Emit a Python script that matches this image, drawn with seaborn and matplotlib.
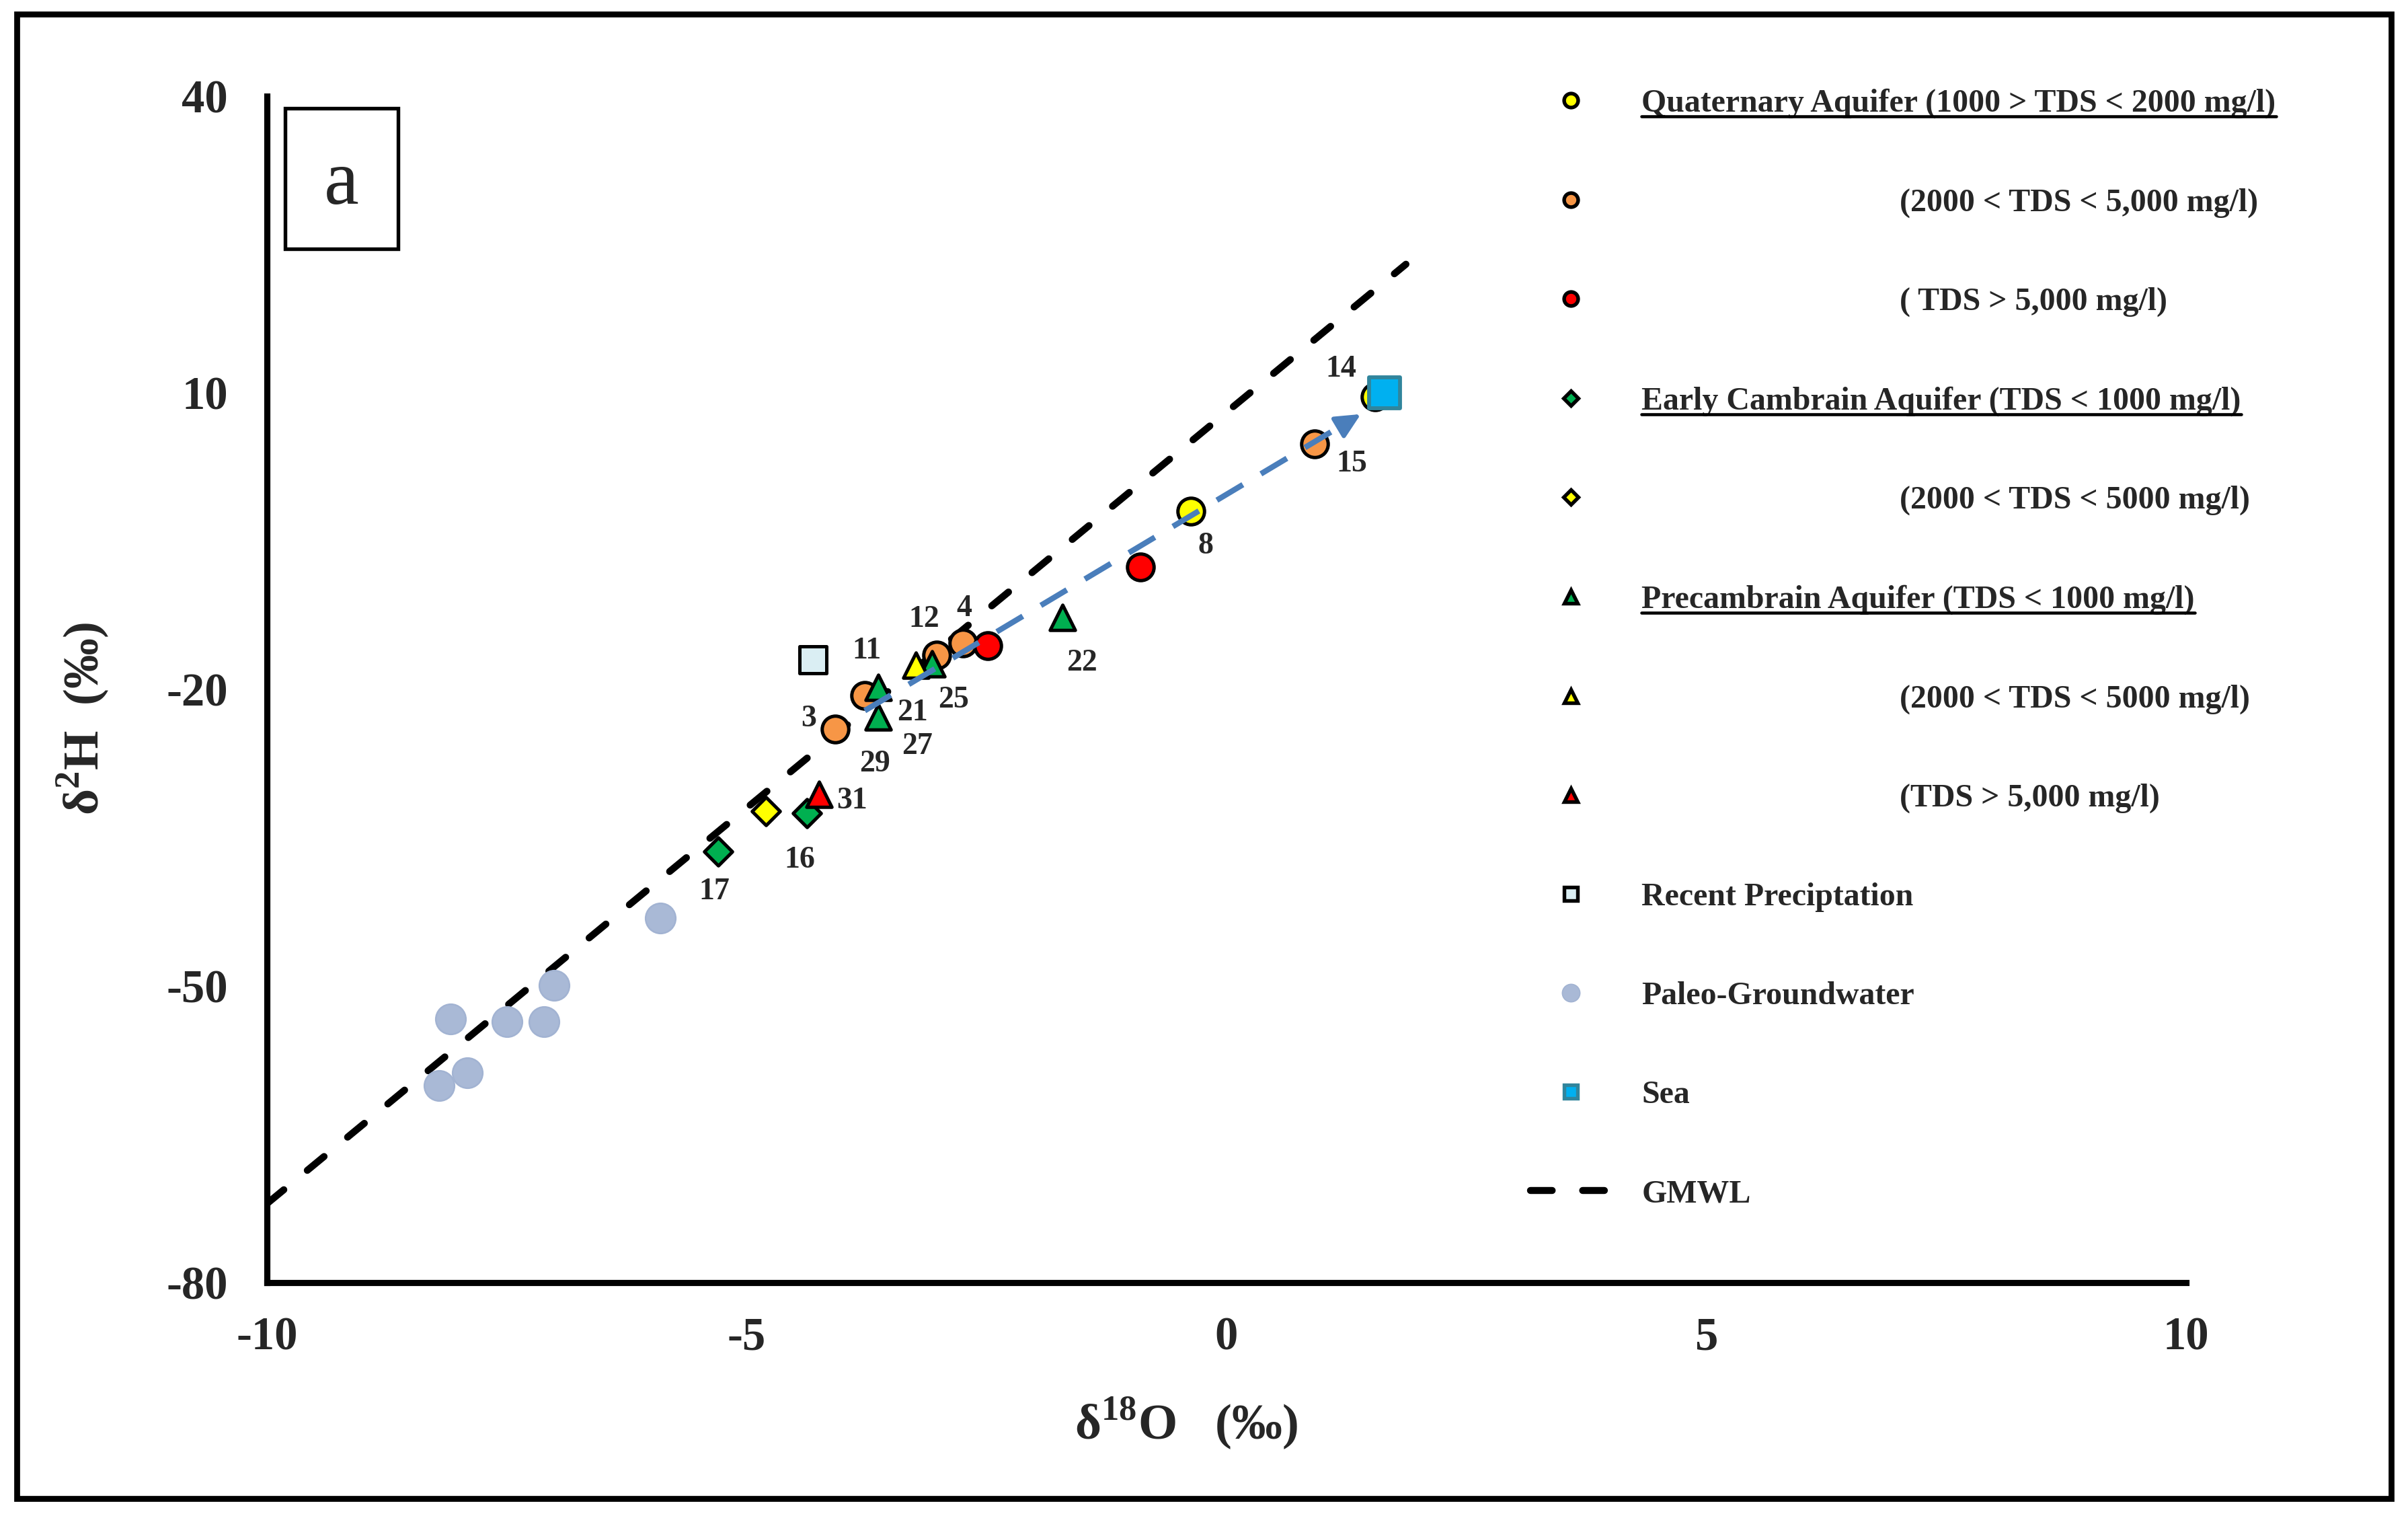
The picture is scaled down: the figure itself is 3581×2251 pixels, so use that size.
import numpy as np
import pandas as pd
import matplotlib
matplotlib.use("Agg")
import matplotlib.pyplot as plt
import seaborn as sns
from matplotlib.lines import Line2D
from matplotlib.patches import Rectangle

# delta 18O / delta 2H values
quat_low_x = [-0.37, 1.55]
quat_low_y = [-2.0, 9.6]
quat_low_id = ["8", "14"]

quat_mid_x = [-4.08, -3.77, -3.02, -2.75, 0.92]
quat_mid_y = [-24.0, -20.6, -16.5, -15.3, 4.85]
quat_mid_id = ["3", "11", "12", "4", "15"]

quat_high_x = [-2.49, -0.90]
quat_high_y = [-15.6, -7.6]
quat_high_id = ["", ""]

camb_fresh_x = [-5.30, -4.37]
camb_fresh_y = [-36.4, -32.5]
camb_fresh_id = ["17", "16"]

camb_mid_x = [-4.80]
camb_mid_y = [-32.3]
camb_mid_id = [""]

precam_fresh_x = [-3.63, -3.63, -3.07, -1.71]
precam_fresh_y = [-19.8, -22.8, -17.4, -12.7]
precam_fresh_id = ["21", "29", "25", "22"]

precam_mid_x = [-3.24]
precam_mid_y = [-17.55]
precam_mid_id = ["27"]

precam_high_x = [-4.25]
precam_high_y = [-30.6]
precam_high_id = ["31"]

rain_x = [-4.31]
rain_y = [-17.0]

paleo_x = [-8.09, -7.50, -7.11, -7.01, -5.90, -7.91, -8.21]
paleo_y = [-53.3, -53.6, -53.6, -49.9, -43.1, -58.8, -60.05]

sea_x = [1.65]
sea_y = [10.0]

gmwl_x = [-10.0, 1.87]
gmwl_y = [-72.0, 23.0]

mix_x = [-3.77, 1.40]
mix_y = [-22.15, 7.84]

x_ticks = [-10, -5, 0, 5, 10]
y_ticks = [40, 10, -20, -50, -80]

legend_labels = [
    "Quaternary Aquifer (1000 > TDS < 2000 mg/l)",
    "(2000 < TDS < 5,000 mg/l)",
    "( TDS > 5,000 mg/l)",
    "Early Cambrain Aquifer (TDS < 1000 mg/l)",
    "(2000 < TDS < 5000 mg/l)",
    "Precambrain Aquifer (TDS < 1000 mg/l)",
    "(2000 < TDS < 5000 mg/l)",
    "(TDS > 5,000 mg/l)",
    "Recent Preciptation",
    "Paleo-Groundwater",
    "Sea",
    "GMWL",
]
header_rows = [0, 3, 5]
indent_rows = [1, 2, 4, 6, 7]

groups = {
    "quat_low": (quat_low_x, quat_low_y, quat_low_id),
    "quat_mid": (quat_mid_x, quat_mid_y, quat_mid_id),
    "quat_high": (quat_high_x, quat_high_y, quat_high_id),
    "camb_fresh": (camb_fresh_x, camb_fresh_y, camb_fresh_id),
    "camb_mid": (camb_mid_x, camb_mid_y, camb_mid_id),
    "precam_fresh": (precam_fresh_x, precam_fresh_y, precam_fresh_id),
    "precam_mid": (precam_mid_x, precam_mid_y, precam_mid_id),
    "precam_high": (precam_high_x, precam_high_y, precam_high_id),
    "rain": (rain_x, rain_y, [""]),
    "paleo": (paleo_x, paleo_y, [""] * len(paleo_x)),
    "sea": (sea_x, sea_y, [""]),
}
rows = []
for g, (xs, ys, ids) in groups.items():
    for x, y, i in zip(xs, ys, ids):
        rows.append({"group": g, "d18O": x, "d2H": y, "id": i})
df = pd.DataFrame(rows)

# marker, face, size, edge, edge width, zorder
styles = {
    "quat_low": ("o", "#FFFF00", 90, "black", 1.2, 3),
    "quat_mid": ("o", "#F79646", 90, "black", 1.2, 3),
    "quat_high": ("o", "#FF0000", 90, "black", 1.2, 3),
    "camb_fresh": ("D", "#00B050", 50, "black", 1.2, 3),
    "camb_mid": ("D", "#FFFF00", 50, "black", 1.2, 3),
    "precam_fresh": ("^", "#00B050", 81, "black", 1.2, 3),
    "precam_mid": ("^", "#FFFF00", 81, "black", 1.2, 3),
    "precam_high": ("^", "#FF0000", 81, "black", 1.2, 3),
    "rain": ("s", "#DAEEF3", 92, "black", 1.2, 3),
    "paleo": ("o", "#A9B9D6", 115, "#A2B3D2", 0.6, 5),
    "sea": ("s", "#00B0F0", 120, "#31859C", 1.4, 7),
}

# label offsets (points) next to each sample
label_offsets = {
    "3": (-9.5, 3.6), "11": (0.6, 15.8), "21": (12.2, -9.2), "29": (-1.3, -16.7),
    "27": (0.5, -29.0), "25": (7.7, -13.0), "12": (-4.6, 12.7), "4": (0.6, 12.2),
    "22": (7.0, -16.5), "8": (5.2, -12.4), "31": (11.8, -2.4), "16": (-2.6, -16.8),
    "17": (-1.2, -14.3), "14": (-12.2, 9.8), "15": (13.2, -7.3),
}

sns.set_style("white")
plt.rcParams["font.family"] = ["Liberation Serif", "DejaVu Serif"]
plt.rcParams["font.weight"] = "bold"
plt.rcParams["mathtext.fontset"] = "custom"
plt.rcParams["mathtext.rm"] = "Liberation Serif"
plt.rcParams["mathtext.bf"] = "Liberation Serif:bold"

fig = plt.figure(figsize=(3581 / 300, 2251 / 300), dpi=300)
ax = fig.add_axes([0.1109, 0.1528, 0.7969, 0.7837])

for g in groups:
    m, fc, s, ec, lw, z = styles[g]
    sns.scatterplot(data=df[df["group"] == g], x="d18O", y="d2H", marker=m,
                    color=fc, s=s, edgecolor=ec, linewidth=lw, zorder=z,
                    legend=False, ax=ax)

gmwl_dash = (0, (3.1, 4.35))
ax.plot(gmwl_x, gmwl_y, color="black", lw=2.5, linestyle=gmwl_dash,
        dash_capstyle="round", zorder=2.5)

# mixing trend arrow towards sea water
blue = "#4A7EBB"
dx = mix_x[1] - mix_x[0]
dy = mix_y[1] - mix_y[0]
back = (mix_x[1] - 0.04 * dx, mix_y[1] - 0.04 * dy)
ax.plot([mix_x[0], back[0]], [mix_y[0], back[1]], color=blue, lw=2.0,
        linestyle=(0, (5.4, 3.75)), dash_capstyle="butt", zorder=6)
ax.annotate("", xy=(mix_x[1], mix_y[1]), xytext=back,
            arrowprops=dict(arrowstyle="-|>,head_length=0.75,head_width=0.36",
                            mutation_scale=10, color=blue, lw=1.5,
                            shrinkA=0, shrinkB=0), zorder=6)

for _, r in df[df["id"] != ""].iterrows():
    ax.annotate(r["id"], (r["d18O"], r["d2H"]), xytext=label_offsets[r["id"]],
                textcoords="offset points", ha="center", va="center",
                fontsize=11, fontweight="bold", zorder=8)

ax.set_xlim(-10, 10)
ax.set_ylim(-80, 40)
ax.set_xticks(x_ticks)
ax.set_yticks(y_ticks)
ax.set_xticklabels([str(t) for t in x_ticks])
ax.set_yticklabels([str(t) for t in y_ticks])
for sp in ["top", "right"]:
    ax.spines[sp].set_visible(False)
for sp in ["left", "bottom"]:
    ax.spines[sp].set_linewidth(2.2)
    ax.spines[sp].set_color("black")
ax.tick_params(axis="both", direction="out", length=4.5, width=2.2,
               labelsize=16.5, color="black")
ax.tick_params(axis="x", pad=7.5)
ax.tick_params(axis="y", pad=9.5)
for t in ax.get_xticklabels() + ax.get_yticklabels():
    t.set_fontweight("bold")

ax.set_xlabel("δ$^{\\mathbf{18}}$O   (‰)", fontsize=18, fontweight="bold")
ax.set_ylabel("δ$^{\\mathbf{2}}$H  (‰)", fontsize=18, fontweight="bold")
ax.xaxis.set_label_coords(0.479, -0.095)
ax.yaxis.set_label_coords(-0.0813, 0.4756)

# panel letter
ax.add_patch(Rectangle((0.0093, 0.8715), 0.059, 0.1183, transform=ax.transAxes,
                       fill=False, lw=1.3, edgecolor="black", clip_on=False))
ax.text(0.0388, 0.925, "a", transform=ax.transAxes, ha="center", va="center",
        fontsize=28, fontweight="normal")

# legend
handles = []
for g in ["quat_low", "quat_mid", "quat_high", "camb_fresh", "camb_mid",
          "precam_fresh", "precam_mid", "precam_high", "rain", "paleo", "sea"]:
    m, fc, s, ec, lw, z = styles[g]
    ms = 5.0 if m != "D" else 3.8
    if g == "paleo":
        ms = 6.3
    handles.append(Line2D([], [], marker=m, linestyle="none", markersize=ms,
                          markerfacecolor=fc, markeredgecolor=ec,
                          markeredgewidth=1.3 if g != "paleo" else 0.4))
handles.append(Line2D([], [], color="black", lw=2.5, linestyle=gmwl_dash,
                      dash_capstyle="round"))
labels = [(" " * 32 + l) if i in indent_rows else l
          for i, l in enumerate(legend_labels)]
leg = ax.legend(handles, labels, loc="upper left", bbox_to_anchor=(0.6356, 0.9415),
                bbox_transform=fig.transFigure, frameon=False,
                handlelength=2.5, handletextpad=0.95, labelspacing=2.15,
                borderpad=0, borderaxespad=0, prop={"weight": "bold", "size": 11.5})

# figure frame
fig.add_artist(Rectangle((0.007, 0.0102), 0.986, 0.9805, transform=fig.transFigure,
                         fill=False, lw=2.1, edgecolor="black"))

# underline the aquifer headers
fig.canvas.draw()
renderer = fig.canvas.get_renderer()
inv = fig.transFigure.inverted()
for i in header_rows:
    bb = leg.get_texts()[i].get_window_extent(renderer)
    y = bb.y0 + 0.07 * bb.height
    (x0, y0), (x1, _) = inv.transform([(bb.x0, y), (bb.x1, y)])
    fig.add_artist(Line2D([x0, x1], [y0, y0], color="black", lw=1.1,
                          transform=fig.transFigure))

fig.savefig("out.png", dpi=300)
